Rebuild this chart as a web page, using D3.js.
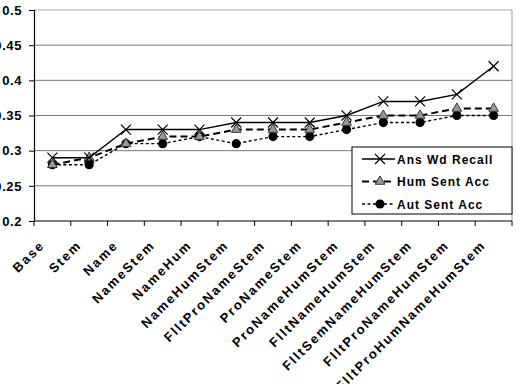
<!DOCTYPE html>
<html>
<head>
<meta charset="utf-8">
<script src="https://cdn.jsdelivr.net/npm/d3@7"></script>
<style>
  body { margin: 0; background: #fff; }
  svg { display: block; }
  text { font-family: "Liberation Sans", Arial, sans-serif; font-weight: bold; fill: #000; }
</style>
</head>
<body>
<svg id="chart" width="518" height="384"></svg>
<script>
const categories = ["Base", "Stem", "Name", "NameStem", "NameHum", "NameHumStem",
  "FlltProNameStem", "ProNameStem", "ProNameHumStem", "FlltNameHumStem",
  "FlltSemNameHumStem", "FlltProNameHumStem", "FlltProHumNameHumStem"];
const ansWdRecall = [0.29, 0.29, 0.33, 0.33, 0.33, 0.34, 0.34, 0.34, 0.35, 0.37, 0.37, 0.38, 0.42];
const humSentAcc = [0.28, 0.29, 0.31, 0.32, 0.32, 0.33, 0.33, 0.33, 0.34, 0.35, 0.35, 0.36, 0.36];
const autSentAcc = [0.28, 0.28, 0.31, 0.31, 0.32, 0.31, 0.32, 0.32, 0.33, 0.34, 0.34, 0.35, 0.35];
const yTicks = [0.2, 0.25, 0.3, 0.35, 0.4, 0.45, 0.5];
const yTickLabels = ["0.2", "0.25", "0.3", "0.35", "0.4", "0.45", "0.5"];

(function () {
  const svg = d3.select("#chart");
  const left = 34, right = 512, top = 10, bottom = 221;

  const x = d3.scaleBand().domain(categories).range([left, right]).padding(0);
  const y = d3.scaleLinear().domain([0.2, 0.5]).range([bottom, top]);
  const cx = (c) => x(c) + x.bandwidth() / 2;

  // gridlines
  svg.append("g")
    .selectAll(null)
    .data(yTicks.slice(1))
    .enter()
    .append("line")
    .attr("x1", left).attr("x2", right)
    .attr("y1", (d) => y(d)).attr("y2", (d) => y(d))
    .attr("stroke", (d) => (d === 0.5 ? "#aaa" : "#777"))
    .style("stroke-width", "1px");

  // right border
  svg.append("line")
    .attr("x1", right).attr("x2", right)
    .attr("y1", top).attr("y2", bottom)
    .attr("stroke", "#999");

  // y axis
  const yAxis = svg.append("g")
    .attr("transform", `translate(${left},0)`)
    .call(d3.axisLeft(y).tickValues(yTicks).tickSize(5)
      .tickFormat((d, i) => yTickLabels[i]));
  yAxis.select(".domain").attr("stroke", "#000").style("stroke-width", "1.2px");
  yAxis.selectAll(".tick line").attr("stroke", "#000");
  yAxis.selectAll(".tick text")
    .attr("x", -12)
    .style("font-size", "13px")
    .style("letter-spacing", "0.6px")
    .style("font-family", "Liberation Sans, Arial, sans-serif")
    .style("font-weight", "bold");

  // x axis line and boundary ticks
  svg.append("line")
    .attr("x1", left).attr("x2", right)
    .attr("y1", bottom).attr("y2", bottom)
    .attr("stroke", "#000").style("stroke-width", "1.2px");
  const bounds = categories.map((c) => x(c)).concat([right]);
  svg.append("g")
    .selectAll(null)
    .data(bounds)
    .enter()
    .append("line")
    .attr("x1", (d) => d).attr("x2", (d) => d)
    .attr("y1", bottom).attr("y2", bottom + 5)
    .attr("stroke", "#000");

  // x labels
  svg.append("g")
    .selectAll(null)
    .data(categories)
    .enter()
    .append("text")
    .text((d) => d)
    .attr("text-anchor", "end")
    .attr("transform", (d) => `translate(${cx(d) - 7},${bottom + 25}) rotate(-45)`)
    .style("font-size", "13px")
    .style("letter-spacing", "1.9px");

  const series = [
    { name: "Ans Wd Recall", values: ansWdRecall, dash: null, width: 1.4, marker: "x" },
    { name: "Hum Sent Acc", values: humSentAcc, dash: "7,4", width: 2, marker: "tri" },
    { name: "Aut Sent Acc", values: autSentAcc, dash: "3,2.5", width: 1.4, marker: "dot" }
  ];

  const line = d3.line().x((d) => cx(d[0])).y((d) => y(d[1]));

  function drawMarker(g, type, px, py) {
    if (type === "x") {
      g.append("path")
        .attr("d", `M${px - 5},${py - 5}L${px + 5},${py + 5}M${px - 5},${py + 5}L${px + 5},${py - 5}`)
        .attr("stroke", "#000").attr("fill", "none").style("stroke-width", "1.2px");
    } else if (type === "tri") {
      g.append("path")
        .attr("d", d3.symbol().type(d3.symbolTriangle).size(40)())
        .attr("transform", `translate(${px},${py})`)
        .attr("fill", "#999").attr("stroke", "#333").style("stroke-width", "1px");
    } else {
      g.append("circle")
        .attr("cx", px).attr("cy", py).attr("r", 4.6)
        .attr("fill", "#000");
    }
  }

  // draw bottom series first
  series.slice().reverse().forEach((s) => {
    const pts = categories.map((c, i) => [c, s.values[i]]);
    svg.append("path")
      .attr("d", line(pts))
      .attr("fill", "none")
      .attr("stroke", "#000")
      .attr("stroke-dasharray", s.dash)
      .style("stroke-width", `${s.width}px`);
    const g = svg.append("g");
    pts.forEach((p) => drawMarker(g, s.marker, cx(p[0]), y(p[1])));
  });

  // legend
  const lx = 352, ly = 147, lw = 160, lh = 67;
  svg.append("rect")
    .attr("x", lx).attr("y", ly).attr("width", lw).attr("height", lh)
    .attr("fill", "#fff").attr("stroke", "#000").style("stroke-width", "1px");

  series.forEach((s, i) => {
    const ry = ly + 12 + i * 22.5;
    const g = svg.append("g");
    g.append("line")
      .attr("x1", lx + 10).attr("x2", lx + 43)
      .attr("y1", ry).attr("y2", ry)
      .attr("stroke", "#000")
      .attr("stroke-dasharray", s.dash)
      .style("stroke-width", `${s.width}px`);
    drawMarker(g, s.marker, lx + 28, ry);
    g.append("text")
      .text(s.name)
      .attr("x", lx + 45)
      .attr("y", ry + 4.5)
      .style("font-size", "12px")
      .style("letter-spacing", "1px");
  });
})();
</script>
</body>
</html>
